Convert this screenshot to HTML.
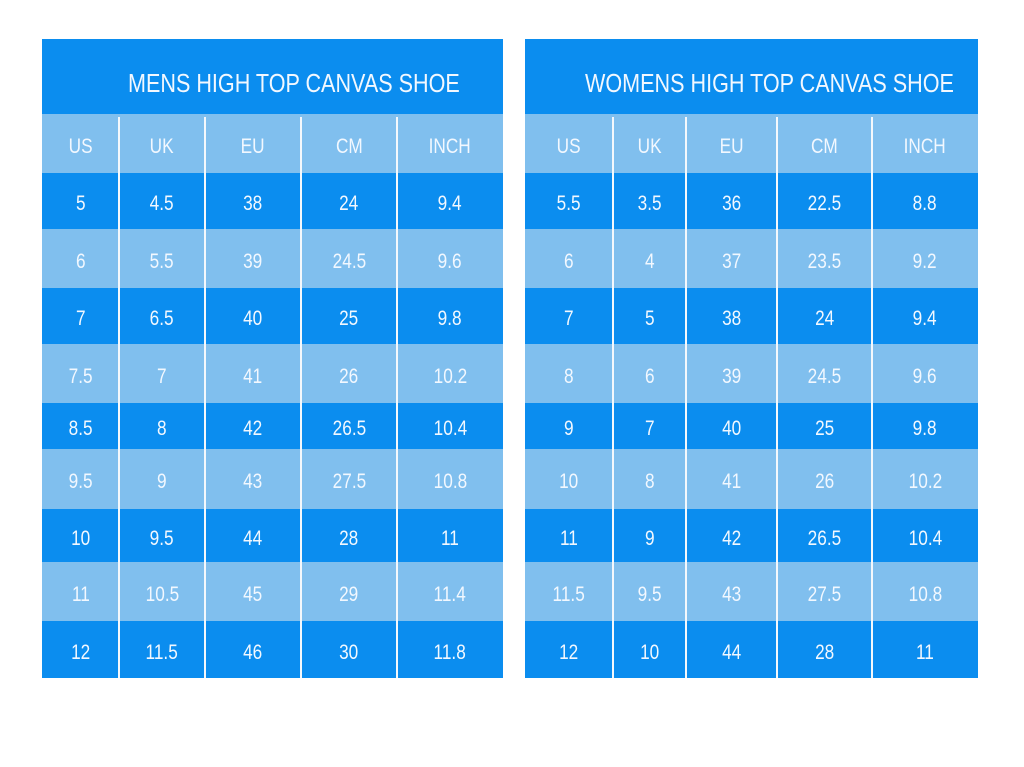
<!DOCTYPE html>
<html><head><meta charset="utf-8"><style>
body{margin:0;width:1024px;height:767px;background:#fff;position:relative;overflow:hidden;font-family:"Liberation Sans",sans-serif;color:#f2f8ff}
.t{position:absolute;top:39px;height:639px}
.h{position:absolute;left:0;right:0;top:0;height:75px;background:#0b8def;font-size:26px;line-height:88px;white-space:nowrap}
.h span{display:inline-block;transform:scaleX(0.83);transform-origin:0 50%}
.r{position:absolute;left:0;right:0;display:flex}
.r div{text-align:center;font-size:21px;white-space:nowrap;padding-top:6px;box-sizing:border-box}
.r span{display:inline-block;transform:scaleX(0.82)}
.d{background:#0b8def}.l{background:#80bfee}
.v{position:absolute;width:2px;background:#f4f8fc;top:78px;bottom:0}
</style></head><body>
<div class="t" style="left:42px;width:461px">
<div class="h" style="padding-left:86px"><span>MENS HIGH TOP CANVAS SHOE</span></div>
<div id="L"></div>
<div class="v" style="left:76px"></div><div class="v" style="left:162px"></div><div class="v" style="left:258px"></div><div class="v" style="left:354px"></div>
</div>
<div class="t" style="left:525px;width:453px">
<div class="h" style="padding-left:60px"><span>WOMENS HIGH TOP CANVAS SHOE</span></div>
<div id="R"></div>
<div class="v" style="left:87px"></div><div class="v" style="left:160px"></div><div class="v" style="left:251px"></div><div class="v" style="left:346px"></div>
</div>
<script>
var ys=[75,134,190,249,305,364,410,470,523,582,639];
function build(id,cols,data){var el=document.getElementById(id),h='';
for(var i=0;i<10;i++){var top=ys[i],ht=ys[i+1]-ys[i],c=(i%2==0)?'l':'d';
h+='<div class="r '+c+'" style="top:'+top+'px;height:'+ht+'px;line-height:'+(ht-6)+'px">';
for(var j=0;j<5;j++){h+='<div style="width:'+cols[j]+'px"><span>'+data[i][j]+'</span></div>';}
h+='</div>';}el.innerHTML=h;}
build('L',[77,86,96,96,106],[["US","UK","EU","CM","INCH"],["5","4.5","38","24","9.4"],["6","5.5","39","24.5","9.6"],["7","6.5","40","25","9.8"],["7.5","7","41","26","10.2"],["8.5","8","42","26.5","10.4"],["9.5","9","43","27.5","10.8"],["10","9.5","44","28","11"],["11","10.5","45","29","11.4"],["12","11.5","46","30","11.8"]]);
build('R',[88,73,91,95,106],[["US","UK","EU","CM","INCH"],["5.5","3.5","36","22.5","8.8"],["6","4","37","23.5","9.2"],["7","5","38","24","9.4"],["8","6","39","24.5","9.6"],["9","7","40","25","9.8"],["10","8","41","26","10.2"],["11","9","42","26.5","10.4"],["11.5","9.5","43","27.5","10.8"],["12","10","44","28","11"]]);
</script>
</body></html>
